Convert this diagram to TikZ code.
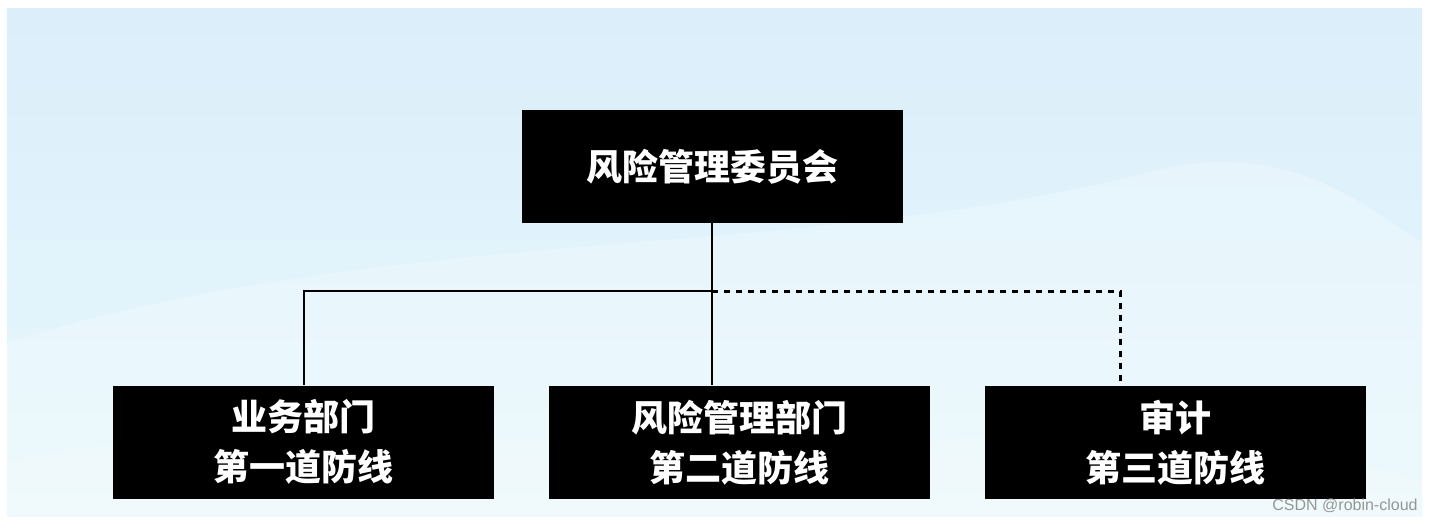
\documentclass[tikz,border=0pt]{standalone}
\usepackage{fontspec}
\newfontfamily\cjk{Noto Sans CJK SC}
\setsansfont{Liberation Sans}
\usetikzlibrary{positioning}
\definecolor{ceuA}{RGB}{219,238,250}
\definecolor{ceuB}{RGB}{231,248,252}
\definecolor{ceuC}{RGB}{240,251,254}
\definecolor{marca}{RGB}{150,150,150}

\begin{document}
\begin{tikzpicture}[x=0.5pt, y=0.5pt,
    orgao/.style={fill=black, text=white, align=center, inner sep=0pt,
                  font=\cjk\bfseries\fontsize{18}{25}\selectfont,
                  minimum width=190.5pt, minimum height=56.5pt},
    ligacao/.style={line width=1pt},
    pontilhado/.style={line width=1.5pt, dash pattern=on 3pt off 3pt},
    node distance=81pt and 27pt]
  % fundo
  \useasboundingbox (0,0) rectangle (1432,522);
  \fill[white] (0,0) rectangle (1432,522);
  \shade[top color=ceuA, bottom color=ceuB] (7,5) rectangle (1422,513);
  \fill[ceuC, opacity=0.45] (7,5) -- (7,60) .. controls (300,130) and (700,40) .. (1000,90)
      .. controls (1200,120) and (1350,60) .. (1422,40) -- (1422,5) -- cycle;
  \fill[white, opacity=0.25] (7,180) .. controls (400,300) and (800,260) .. (1150,350)
      .. controls (1300,390) and (1380,300) .. (1422,280) -- (1422,5) -- (7,5) -- cycle;

  \node[orgao] (comite) at (712,355.5) {风险管理委员会};
  \node[orgao, below=of comite, xshift=13.75pt] (l2) {风险管理部门\\第二道防线};
  \node[orgao, left=of l2] (l1) {业务部门\\第一道防线};
  \node[orgao, right=of l2] (l3) {审计\\第三道防线};

  \coordinate (junta) at ([yshift=-34pt]comite.south);
  \coordinate (auditoria) at ([xshift=-27.25pt]l3.north);
  \draw[ligacao] (comite.south) -- (comite.south |- l2.north);
  \draw[ligacao] (junta) -| (l1.north);
  \draw[pontilhado] (junta) -| (auditoria);

  \node[anchor=east, text=marca, font=\sffamily\fontsize{8}{9}\selectfont, inner sep=0pt]
    (csdn) at (1418,16) {CSDN @robin-cloud};
\end{tikzpicture}
\end{document}
